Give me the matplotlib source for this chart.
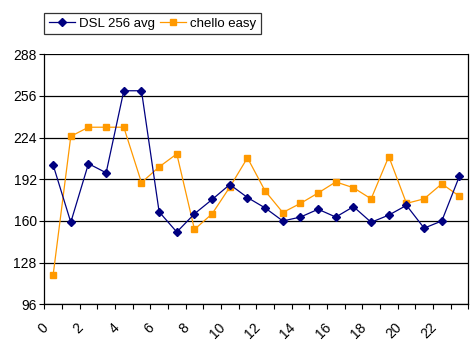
import matplotlib
matplotlib.use("Agg")
import matplotlib.pyplot as plt
from matplotlib.transforms import ScaledTranslation

hours = list(range(24))
dsl_256_avg = [203, 159, 204, 197, 260, 260, 167, 151.5, 165.5, 176.5, 188, 178,
               170, 160, 163, 169, 163, 171, 159, 164.5, 172, 154.5, 160, 194.5]
chello_easy = [118.5, 225, 232, 232, 232, 189.5, 201.5, 211.5, 153.5, 165.5, 186, 208.5,
               183, 166.5, 173.5, 181.5, 190, 185.5, 177, 209.5, 173.5, 177, 188.5, 179]
y_ticks = [96, 128, 160, 192, 224, 256, 288]
x_labels = [str(h) for h in range(0, 24, 2)]

plt.rcParams['font.family'] = ['Liberation Sans', 'DejaVu Sans']

fig = plt.figure(figsize=(4.77, 3.48), dpi=100)
ax = fig.add_axes([44.3 / 477, 1 - 304.3 / 348, 424 / 477, 250 / 348])

l1, = ax.plot(hours, dsl_256_avg, color='#000080', lw=0.9, marker='D', ms=3.6,
              mfc='#000080', mec='#000080', label='DSL 256 avg', zorder=3)
l2, = ax.plot(hours, chello_easy, color='#FF9900', lw=0.9, marker='s', ms=4.6,
              mfc='#FF9900', mec='#FF9900', label='chello easy', zorder=2)

ax.set_xlim(-0.5, 23.5)
ax.set_ylim(96, 288)
ax.set_yticks(y_ticks)
ax.yaxis.grid(True, color='black', lw=0.9)
ax.set_axisbelow(True)
ax.tick_params(axis='y', direction='out', length=3.5, width=0.8, pad=2, labelsize=10)

# category boundaries carry the tick marks; labels sit under every second hour
ax.set_xticks([i - 0.5 for i in range(25)])
ax.set_xticklabels([])
ax.tick_params(axis='x', direction='out', length=3.5, width=0.8)
offset = ScaledTranslation(-7 / 100, -21 / 100, fig.dpi_scale_trans)
for h, lab in zip(range(0, 24, 2), x_labels):
    ax.text(h, 0, lab, transform=ax.get_xaxis_transform() + offset,
            rotation=45, rotation_mode='anchor', ha='right', va='center',
            fontsize=10)

for side in ['left', 'bottom', 'right']:
    ax.spines[side].set_linewidth(0.9)
    ax.spines[side].set_color('black')
ax.spines['top'].set_visible(False)

leg = fig.legend(handles=[l1, l2], loc='upper left', bbox_to_anchor=(44 / 477, 1 - 13 / 348),
                 ncol=2, frameon=True, fancybox=False, fontsize=9.5, handlelength=2.0,
                 handletextpad=0.3, columnspacing=0.35, borderpad=0.35, borderaxespad=0)
leg.get_frame().set_edgecolor('black')
leg.get_frame().set_linewidth(0.9)

fig.savefig('out.png', dpi=100)
